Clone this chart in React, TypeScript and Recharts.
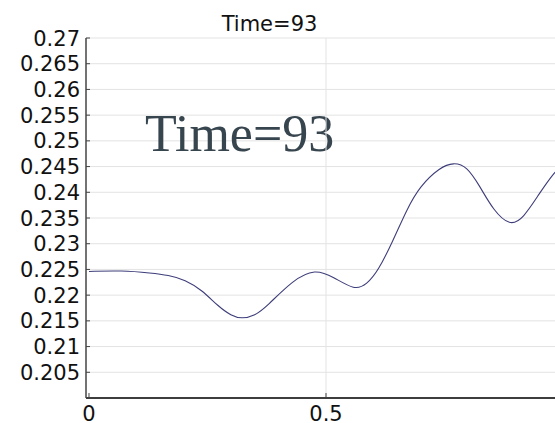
import React from 'react';
import { LineChart, Line, XAxis, YAxis, CartesianGrid, ReferenceLine, Customized } from 'recharts';

const xValues = [0, 0.069, 0.132, 0.167, 0.203, 0.238, 0.273, 0.3, 0.322, 0.35, 0.375, 0.431, 0.477, 0.515, 0.561, 0.586, 0.61, 0.642, 0.67, 0.698, 0.741, 0.769, 0.797, 0.825, 0.853, 0.888, 0.916, 0.951, 0.979, 1.0];
const yValues = [0.2246, 0.2248, 0.2243, 0.2239, 0.223, 0.221, 0.2178, 0.216, 0.2154, 0.216, 0.2178, 0.223, 0.2251, 0.2236, 0.2209, 0.2221, 0.2247, 0.2307, 0.2366, 0.2412, 0.2449, 0.2458, 0.2451, 0.2411, 0.2365, 0.2334, 0.2349, 0.2399, 0.2436, 0.2455];
const xTicks = [0, 0.5, 1];
const yTicks = [0.205, 0.21, 0.215, 0.22, 0.225, 0.23, 0.235, 0.24, 0.245, 0.25, 0.255, 0.26, 0.265, 0.27];
const titleText = 'Time=93';

const data = xValues.map((x, i) => ({ x, y: yValues[i] }));

const fmt = (v: number) => String(Number(v.toFixed(3)));

const YTick = (props: any) => {
  const { x, y, payload } = props;
  return (
    <g>
      <line x1={x} x2={x + 4} y1={y} y2={y} stroke="#444" strokeWidth={1} />
      <text x={x - 6} y={y} dy="0.36em" textAnchor="end" fontFamily="DejaVu Sans" fontSize={21} fill="#111">
        {fmt(payload.value)}
      </text>
    </g>
  );
};

const XTick = (props: any) => {
  const { x, y, payload } = props;
  return (
    <g>
      <line x1={x} x2={x} y1={y} y2={y - 5} stroke="#444" strokeWidth={1} />
      <text x={x} y={y + 23} textAnchor="middle" fontFamily="DejaVu Sans" fontSize={21} fill="#111">
        {fmt(payload.value)}
      </text>
    </g>
  );
};

const TopTick = (props: any) => {
  const { x, y } = props;
  return <line x1={x} x2={x} y1={y} y2={y + 4} stroke="#555" strokeWidth={1} />;
};

const Texts = () => (
  <g>
    <text x={269.5} y={31} textAnchor="middle" fontFamily="DejaVu Sans" fontSize={21} fill="#111">
      {titleText}
    </text>
    <text x={145} y={151} fontFamily="Liberation Serif" fontSize={52} fill="#37454f">
      {titleText}
    </text>
  </g>
);

export default function App() {
  return (
    <div style={{ position: 'fixed', left: 0, top: 0, width: 555, height: 423, overflow: 'hidden', background: '#fff' }}>
      <LineChart width={580} height={423} data={data} margin={{ top: 38, right: 14, left: 0, bottom: 0 }}>
        <CartesianGrid vertical={false} stroke="#e3e3e3" />
        <ReferenceLine x={0.5} stroke="#e3e3e3" ifOverflow="visible" />
        <XAxis
          dataKey="x"
          type="number"
          domain={[-0.0063, 1.0063]}
          ticks={xTicks}
          allowDataOverflow
          height={25}
          tickSize={0}
          tickMargin={0}
          tick={<XTick />}
          axisLine={{ stroke: '#000', strokeWidth: 1.5 }}
          interval={0}
        />
        <XAxis
          xAxisId="top"
          orientation="top"
          dataKey="x"
          type="number"
          domain={[-0.0063, 1.0063]}
          ticks={xTicks}
          allowDataOverflow
          height={0}
          tickSize={0}
          tickMargin={0}
          tick={<TopTick />}
          axisLine={{ stroke: '#6a6a6a', strokeWidth: 1.5 }}
          interval={0}
        />
        <YAxis
          type="number"
          domain={[0.2, 0.27]}
          ticks={yTicks}
          allowDataOverflow
          width={86}
          tickSize={0}
          tickMargin={0}
          tick={<YTick />}
          axisLine={{ stroke: '#444', strokeWidth: 1.5 }}
          interval={0}
        />
        <Line type="basis" dataKey="y" stroke="#3d3d7a" strokeWidth={1.1} dot={false} isAnimationActive={false} />
        <Customized component={Texts} />
      </LineChart>
    </div>
  );
}
